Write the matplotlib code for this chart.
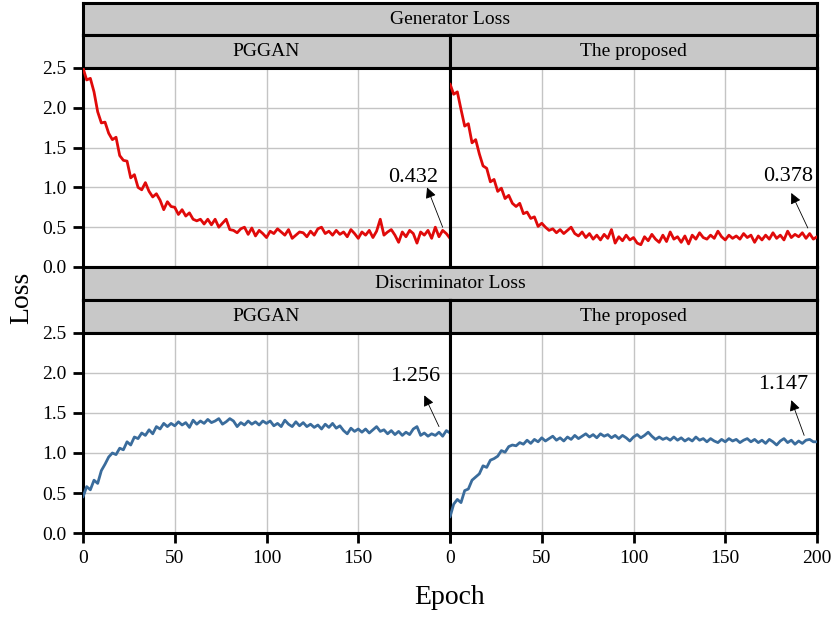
import matplotlib
matplotlib.use("Agg")
import matplotlib.pyplot as plt

plt.rcParams['font.family'] = ['Liberation Serif', 'DejaVu Serif']

epochs = list(range(0, 201, 2))

gen_pggan = [
    2.50, 2.35, 2.37, 2.20, 1.95, 1.81, 1.82, 1.68, 1.60, 1.63,
    1.40, 1.34, 1.33, 1.12, 1.16, 1.00, 0.97, 1.06, 0.95, 0.88,
    0.92, 0.84, 0.72, 0.82, 0.76, 0.75, 0.66, 0.72, 0.64, 0.68,
    0.60, 0.58, 0.60, 0.54, 0.60, 0.53, 0.60, 0.50, 0.55, 0.60,
    0.47, 0.46, 0.43, 0.48, 0.50, 0.41, 0.49, 0.39, 0.46, 0.42,
    0.37, 0.45, 0.42, 0.48, 0.44, 0.40, 0.47, 0.36, 0.40, 0.44,
    0.43, 0.38, 0.45, 0.40, 0.48, 0.50, 0.42, 0.45, 0.40, 0.46,
    0.41, 0.44, 0.38, 0.47, 0.42, 0.36, 0.44, 0.40, 0.46, 0.37,
    0.45, 0.60, 0.40, 0.44, 0.47, 0.40, 0.31, 0.44, 0.38, 0.46,
    0.42, 0.30, 0.44, 0.40, 0.46, 0.36, 0.50, 0.38, 0.46, 0.42,
    0.36,
]

gen_proposed = [
    2.30, 2.17, 2.20, 1.98, 1.77, 1.80, 1.56, 1.60, 1.42, 1.27,
    1.24, 1.07, 1.10, 0.95, 0.99, 0.86, 0.90, 0.80, 0.76, 0.80,
    0.67, 0.69, 0.61, 0.63, 0.51, 0.55, 0.50, 0.46, 0.48, 0.43,
    0.47, 0.42, 0.46, 0.50, 0.42, 0.39, 0.44, 0.37, 0.42, 0.35,
    0.40, 0.34, 0.41, 0.36, 0.47, 0.30, 0.38, 0.33, 0.40, 0.34,
    0.37, 0.30, 0.28, 0.38, 0.33, 0.41, 0.35, 0.31, 0.40, 0.32,
    0.44, 0.35, 0.38, 0.31, 0.39, 0.29, 0.40, 0.35, 0.43, 0.37,
    0.35, 0.40, 0.36, 0.45, 0.38, 0.34, 0.40, 0.36, 0.39, 0.35,
    0.42, 0.37, 0.40, 0.31, 0.39, 0.34, 0.40, 0.35, 0.43, 0.36,
    0.40, 0.34, 0.45, 0.37, 0.41, 0.38, 0.43, 0.36, 0.42, 0.35,
    0.38,
]

disc_pggan = [
    0.45, 0.58, 0.54, 0.66, 0.62, 0.78, 0.86, 0.95, 1.00, 0.98,
    1.06, 1.04, 1.14, 1.10, 1.20, 1.18, 1.25, 1.22, 1.29, 1.24,
    1.33, 1.30, 1.37, 1.33, 1.37, 1.34, 1.39, 1.35, 1.38, 1.32,
    1.41, 1.36, 1.40, 1.37, 1.42, 1.38, 1.40, 1.43, 1.36, 1.39,
    1.43, 1.40, 1.33, 1.38, 1.35, 1.40, 1.36, 1.39, 1.35, 1.40,
    1.37, 1.40, 1.34, 1.37, 1.33, 1.41, 1.36, 1.33, 1.39, 1.34,
    1.38, 1.33, 1.36, 1.32, 1.35, 1.30, 1.36, 1.32, 1.37, 1.31,
    1.34, 1.28, 1.24, 1.31, 1.27, 1.30, 1.26, 1.30, 1.25, 1.29,
    1.33, 1.27, 1.29, 1.24, 1.28, 1.23, 1.27, 1.22, 1.26, 1.23,
    1.30, 1.33, 1.22, 1.25, 1.21, 1.24, 1.22, 1.26, 1.21, 1.28,
    1.25,
]

disc_proposed = [
    0.20, 0.36, 0.42, 0.38, 0.53, 0.55, 0.66, 0.70, 0.74, 0.84,
    0.82, 0.91, 0.93, 0.96, 1.03, 1.01, 1.08, 1.10, 1.09, 1.13,
    1.11, 1.16, 1.12, 1.17, 1.14, 1.19, 1.15, 1.18, 1.21, 1.16,
    1.19, 1.15, 1.20, 1.17, 1.22, 1.18, 1.21, 1.24, 1.20, 1.23,
    1.19, 1.24, 1.21, 1.23, 1.19, 1.22, 1.18, 1.22, 1.19, 1.15,
    1.20, 1.23, 1.19, 1.22, 1.26, 1.21, 1.17, 1.20, 1.17, 1.19,
    1.16, 1.20, 1.16, 1.19, 1.15, 1.18, 1.15, 1.20, 1.16, 1.18,
    1.14, 1.18, 1.15, 1.13, 1.17, 1.14, 1.18, 1.15, 1.17, 1.13,
    1.16, 1.18, 1.14, 1.17, 1.13, 1.16, 1.12, 1.17, 1.14, 1.10,
    1.15, 1.18, 1.13, 1.16, 1.11, 1.15, 1.12, 1.16, 1.17, 1.14,
    1.14,
]

row_titles = ["Generator Loss", "Discriminator Loss"]
col_titles = ["PGGAN", "The proposed"]
final_labels = [["0.432", "0.378"], ["1.256", "1.147"]]
y_ticks = [0.0, 0.5, 1.0, 1.5, 2.0, 2.5]

W, H = 832, 619
RED = "#e00a0a"
BLUE = "#3a6c9c"
STRIP = "#c8c8c8"


def px_axes(fig, x0, y0, x1, y1):
    # pixel box (top-left origin) -> figure axes
    return fig.add_axes([x0 / W, 1 - y1 / H, (x1 - x0) / W, (y1 - y0) / H])


def strip(fig, x0, y0, x1, y1, text):
    ax = px_axes(fig, x0, y0, x1, y1)
    ax.set_facecolor(STRIP)
    ax.set_xticks([])
    ax.set_yticks([])
    for s in ax.spines.values():
        s.set_linewidth(2.2)
    ax.text(0.5, 0.5, text, transform=ax.transAxes, ha="center", va="center", fontsize=14)
    return ax


fig = plt.figure(figsize=(W / 100, H / 100), dpi=100)

xs = [83, 450, 817]
rows = [(3, 35, 68, 267), (267, 300, 333, 533)]
data = [[gen_pggan, gen_proposed], [disc_pggan, disc_proposed]]
colors = [RED, BLUE]
# text position / arrow head / arrow tail in data coords, per panel
ann = [
    [((180, 1.12), (187.5, 1.0), (196, 0.5)), ((184, 1.14), (186, 0.93), (195, 0.49))],
    [((181, 1.95), (186, 1.72), (194, 1.33)), ((181.5, 1.86), (186, 1.66), (193, 1.22))],
]

for r, (t0, t1, t2, t3) in enumerate(rows):
    strip(fig, xs[0], t0, xs[2], t1, row_titles[r])
    for c in range(2):
        strip(fig, xs[c], t1, xs[c + 1], t2, col_titles[c])
        ax = px_axes(fig, xs[c], t2, xs[c + 1], t3)
        ax.plot(epochs, data[r][c], color=colors[r], lw=2.0, zorder=3,
                solid_joinstyle="round", solid_capstyle="round")
        ax.set_xlim(0, 200)
        ax.set_ylim(0, 2.5)
        ax.set_xticks([0, 50, 100, 150, 200])
        ax.set_yticks(y_ticks)
        ax.grid(True, color="#c4c4c4", lw=1.0)
        ax.set_axisbelow(True)
        for s in ax.spines.values():
            s.set_linewidth(2.2)
        ax.tick_params(direction="out", length=7, width=2, labelsize=14, pad=5)
        if c == 0:
            ax.set_yticklabels([f"{v:.1f}" for v in y_ticks])
        else:
            ax.tick_params(axis="y", left=False, labelleft=False)
        if r == 0:
            ax.tick_params(axis="x", bottom=False, labelbottom=False)
        else:
            labels = ["0", "50", "100", "150", "200"]
            if c == 0:
                labels[-1] = ""
            ax.set_xticklabels(labels)
        (tx, ty), head, tail = ann[r][c]
        ax.annotate("", xy=head, xytext=tail,
                    arrowprops=dict(arrowstyle="-|>", color="black", lw=0.6,
                                    mutation_scale=16, shrinkA=0, shrinkB=0))
        ax.text(tx, ty, final_labels[r][c], ha="center", va="center", fontsize=16)

fig.text(22 / W, 1 - 298 / H, "Loss", rotation=90, ha="center", va="center", fontsize=20)
fig.text(450 / W, 1 - 598 / H, "Epoch", ha="center", va="center", fontsize=20)

fig.savefig("out.png", dpi=100)
